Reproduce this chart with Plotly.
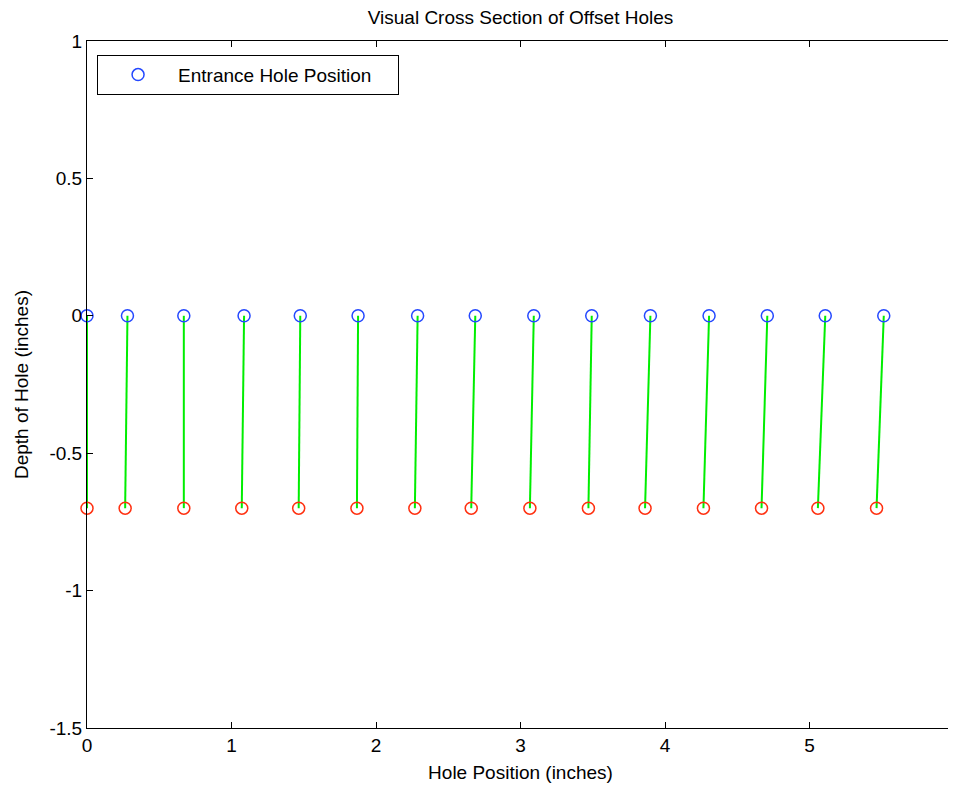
import plotly.graph_objects as go

# Data
entrance_x = [0.0, 0.28, 0.67, 1.087, 1.476, 1.876, 2.288, 2.687, 3.092, 3.493, 3.899, 4.305, 4.708, 5.109, 5.514]
exit_x = [0.0, 0.264, 0.67, 1.071, 1.465, 1.868, 2.269, 2.659, 3.065, 3.470, 3.862, 4.266, 4.668, 5.058, 5.464]
entrance_depth = 0.0
exit_depth = -0.7

x_ticks = [0, 1, 2, 3, 4, 5, 6]
y_ticks = [-1.5, -1, -0.5, 0, 0.5, 1]
y_tick_text = ["-1.5", "-1", "-0.5", "0", "0.5", "1"]

FONT = "Liberation Sans"
FS = 19

fig = go.Figure()

# Green hole paths
lx, ly = [], []
for a, b in zip(entrance_x, exit_x):
    lx += [a, b, None]
    ly += [entrance_depth, exit_depth, None]
fig.add_trace(go.Scatter(x=lx, y=ly, mode="lines", line=dict(color="#00ee00", width=2),
                         showlegend=False, hoverinfo="skip"))

# Exit holes
fig.add_trace(go.Scatter(x=exit_x, y=[exit_depth] * len(exit_x), mode="markers",
                         marker=dict(symbol="circle-open", size=12, color="#ff3010", line=dict(width=1.5)),
                         showlegend=False, cliponaxis=False, name="Exit Hole Position"))

# Entrance holes
fig.add_trace(go.Scatter(x=entrance_x, y=[entrance_depth] * len(entrance_x), mode="markers",
                         marker=dict(symbol="circle-open", size=12, color="#2448ff", line=dict(width=1.5)),
                         name="Entrance Hole Position\u00a0\u00a0\u00a0\u00a0", cliponaxis=False))

axis_common = dict(showgrid=False, zeroline=False, showline=True, linecolor="black", linewidth=1,
                   mirror="ticks", ticks="inside", ticklen=6, tickcolor="black", tickwidth=1,
                   automargin=False,
                   tickfont=dict(family=FONT, size=FS, color="black"))

fig.update_layout(
    width=956, height=787,
    margin=dict(l=79, r=10, t=33, b=67),
    paper_bgcolor="white", plot_bgcolor="white",
    title=dict(text="Visual Cross Section of Offset Holes", x=0.5, xanchor="center",
               xref="paper", y=1 - 9 / 787, yanchor="middle",
               font=dict(family=FONT, size=FS, color="black")),
    xaxis=dict(range=[0, 6], tickvals=x_ticks, ticktext=[str(v) for v in x_ticks],
               title=dict(text="Hole Position (inches)", font=dict(family=FONT, size=FS, color="black"), standoff=10),
               **axis_common),
    yaxis=dict(range=[-1.5, 1], tickvals=y_ticks, ticktext=y_tick_text,
               title=dict(text="Depth of Hole (inches)", font=dict(family=FONT, size=FS, color="black"), standoff=15),
               **axis_common),
    legend=dict(x=0.0116, y=0.98, xanchor="left", yanchor="top", bgcolor="white",
                bordercolor="black", borderwidth=1, itemwidth=70,
                font=dict(family=FONT, size=FS, color="black")),
)

fig.write_html("out.html")
